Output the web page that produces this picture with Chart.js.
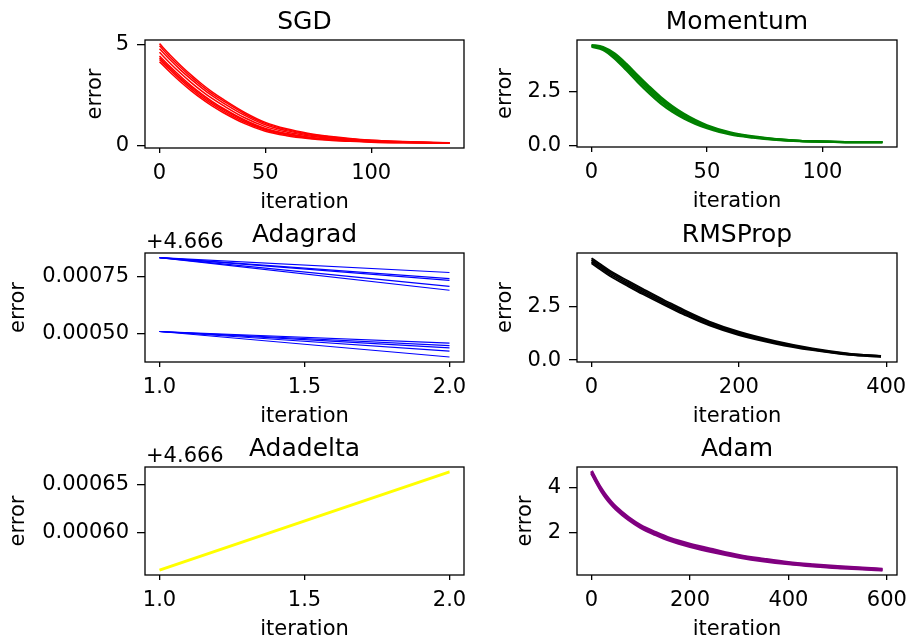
<!DOCTYPE html>
<html><head><meta charset="utf-8">
<script src="https://cdn.jsdelivr.net/npm/chart.js@4.4.1/dist/chart.umd.min.js"></script>
<style>
html,body{margin:0;padding:0;background:#fff;width:912px;height:641px;overflow:hidden;}
#fig{position:relative;width:912px;height:641px;overflow:hidden;}
canvas{position:absolute;}
</style></head><body><div id="fig"></div>
<script>
// ---------------- data ----------------
const sgdIter = [0,5,10,15,20,25,30,40,50,60,70,80,90,100,115,137];
const sgdRun1 = [5.07,4.51,3.99,3.51,3.07,2.67,2.32,1.68,1.17,0.85,0.63,0.48,0.37,0.29,0.22,0.16];
const sgdRun2 = [4.96,4.40,3.89,3.41,2.98,2.58,2.24,1.61,1.12,0.81,0.60,0.46,0.35,0.28,0.21,0.16];
const sgdRun3 = [4.82,4.27,3.76,3.30,2.87,2.48,2.14,1.53,1.05,0.76,0.56,0.43,0.33,0.26,0.20,0.15];
const sgdRun4 = [4.64,4.10,3.60,3.14,2.72,2.34,2.01,1.41,0.96,0.69,0.51,0.39,0.30,0.24,0.19,0.15];
const sgdRun5 = [4.46,3.93,3.44,2.98,2.57,2.20,1.87,1.30,0.87,0.62,0.45,0.35,0.28,0.22,0.18,0.15];
const sgdRun6 = [4.37,3.84,3.35,2.91,2.50,2.13,1.81,1.25,0.83,0.59,0.43,0.33,0.26,0.21,0.17,0.14];
const sgdRun7 = [4.28,3.76,3.27,2.83,2.42,2.06,1.74,1.19,0.79,0.55,0.40,0.31,0.25,0.20,0.17,0.14];
const sgdRun8 = [4.17,3.65,3.17,2.73,2.33,1.97,1.66,1.12,0.73,0.51,0.37,0.28,0.23,0.19,0.16,0.14];

const momIter = [0,5,10,15,20,25,30,35,40,45,50,60,70,80,90,100,110,126];
const momRun1 = [4.66,4.57,4.27,3.80,3.26,2.74,2.25,1.83,1.48,1.19,0.95,0.62,0.43,0.31,0.23,0.20,0.17,0.17];
const momRun2 = [4.64,4.53,4.20,3.71,3.16,2.64,2.16,1.75,1.41,1.14,0.91,0.59,0.41,0.30,0.22,0.19,0.17,0.17];
const momRun3 = [4.61,4.48,4.11,3.61,3.05,2.53,2.06,1.66,1.34,1.07,0.86,0.56,0.39,0.28,0.22,0.19,0.17,0.16];
const momRun4 = [4.58,4.43,4.03,3.50,2.94,2.42,1.95,1.57,1.26,1.01,0.81,0.52,0.37,0.27,0.21,0.18,0.17,0.16];

const adagradIter = [1, 2];
const adagradRun1 = [4.666833, 4.666768];
const adagradRun2 = [4.666833, 4.666741];
const adagradRun3 = [4.666833, 4.666733];
const adagradRun4 = [4.666833, 4.666707];
const adagradRun5 = [4.666833, 4.666690];
const adagradRun6 = [4.666509, 4.666458];
const adagradRun7 = [4.666509, 4.666447];
const adagradRun8 = [4.666509, 4.666437];
const adagradRun9 = [4.666509, 4.666423];
const adagradRun10 = [4.666509, 4.666397];

const rmsIter = [0,10,25,50,70,100,115,130,160,200,250,300,350,393];
const rmsRun1 = [4.74,4.50,4.15,3.67,3.30,2.76,2.51,2.25,1.79,1.32,0.88,0.54,0.30,0.19];
const rmsRun2 = [4.66,4.42,4.07,3.59,3.22,2.69,2.44,2.19,1.73,1.27,0.84,0.51,0.28,0.18];
const rmsRun3 = [4.58,4.34,3.99,3.51,3.14,2.61,2.36,2.12,1.67,1.21,0.80,0.49,0.26,0.16];
const rmsRun4 = [4.50,4.26,3.91,3.43,3.06,2.54,2.29,2.05,1.61,1.16,0.76,0.46,0.24,0.15];

const adadeltaIter = [1, 2];
const adadeltaRun1 = [4.666561, 4.666663];

const adamIter = [0,10,20,30,40,50,75,100,130,160,200,250,300,350,400,450,500,550,591];
const adamRun1 = [4.75,4.33,3.95,3.63,3.36,3.13,2.67,2.31,2.00,1.73,1.47,1.21,0.97,0.80,0.65,0.55,0.47,0.40,0.35];
const adamRun2 = [4.70,4.28,3.90,3.58,3.31,3.08,2.62,2.26,1.95,1.68,1.42,1.16,0.93,0.76,0.62,0.52,0.44,0.38,0.33];
const adamRun3 = [4.65,4.23,3.85,3.53,3.26,3.03,2.57,2.21,1.90,1.63,1.37,1.11,0.89,0.72,0.59,0.49,0.41,0.36,0.31];

// tick values and labels
const sgdXTicks = [0,50,100];          const sgdXLabels = ['0','50','100'];
const sgdYTicks = [0,5];               const sgdYLabels = ['0','5'];
const momXTicks = [0,50,100];          const momXLabels = ['0','50','100'];
const momYTicks = [0,2.5];             const momYLabels = ['0.0','2.5'];
const adagradXTicks = [1,1.5,2];       const adagradXLabels = ['1.0','1.5','2.0'];
const adagradYTicks = [4.6665,4.66675];const adagradYLabels = ['0.00050','0.00075'];
const rmsXTicks = [0,200,400];         const rmsXLabels = ['0','200','400'];
const rmsYTicks = [0,2.5];             const rmsYLabels = ['0.0','2.5'];
const adadeltaXTicks = [1,1.5,2];      const adadeltaXLabels = ['1.0','1.5','2.0'];
const adadeltaYTicks = [4.6666,4.66665];const adadeltaYLabels = ['0.00060','0.00065'];
const adamXTicks = [0,200,400,600];    const adamXLabels = ['0','200','400','600'];
const adamYTicks = [2,4];              const adamYLabels = ['2','4'];

const titles = ['SGD','Momentum','Adagrad','RMSProp','Adadelta','Adam'];
const offsetLabel = '+4.666';

// ---------------- layout / style ----------------
const F = 'DejaVu Sans';
Chart.defaults.font.family = F;

const panels = [
  {title:titles[0], iter:sgdIter, runs:[sgdRun1,sgdRun2,sgdRun3,sgdRun4,sgdRun5,sgdRun6,sgdRun7,sgdRun8], color:'#ff0000', lw:1.5,
   xr:[-6.85,143.85], yr:[-0.1,5.25], xt:sgdXTicks, xl:sgdXLabels, yt:sgdYTicks, yl:sgdYLabels,
   pos:{left:83, top:0, w:411, h:218}, yW:62, offset:null},
  {title:titles[1], iter:momIter, runs:[momRun1,momRun2,momRun3,momRun4], color:'#008000', lw:2.2,
   xr:[-6.3,132.3], yr:[-0.06,4.89], xt:momXTicks, xl:momXLabels, yt:momYTicks, yl:momYLabels,
   pos:{left:493, top:0, w:434, h:217}, yW:84, offset:null},
  {title:titles[2], iter:adagradIter, runs:[adagradRun1,adagradRun2,adagradRun3,adagradRun4,adagradRun5,adagradRun6,adagradRun7,adagradRun8,adagradRun9,adagradRun10], color:'#0000ff', lw:1.2,
   xr:[0.95,2.05], yr:[4.666375,4.6668535], xt:adagradXTicks, xl:adagradXLabels, yt:adagradYTicks, yl:adagradYLabels,
   pos:{left:6, top:213, w:488, h:219}, yW:139, offset:offsetLabel},
  {title:titles[3], iter:rmsIter, runs:[rmsRun1,rmsRun2,rmsRun3,rmsRun4], color:'#000000', lw:1.9,
   xr:[-19.7,414.7], yr:[-0.09,4.98], xt:rmsXTicks, xl:rmsXLabels, yt:rmsYTicks, yl:rmsYLabels,
   pos:{left:493, top:213, w:434, h:219}, yW:84, offset:null},
  {title:titles[4], iter:adadeltaIter, runs:[adadeltaRun1], color:'#ffff00', lw:3,
   xr:[0.95,2.05], yr:[4.666556,4.666668], xt:adadeltaXTicks, xl:adadeltaXLabels, yt:adadeltaYTicks, yl:adadeltaYLabels,
   pos:{left:6, top:427, w:488, h:218}, yW:139, offset:offsetLabel},
  {title:titles[5], iter:adamIter, runs:[adamRun1,adamRun2,adamRun3], color:'#800080', lw:3,
   xr:[-29.55,620.55], yr:[0.09,4.93], xt:adamXTicks, xl:adamXLabels, yt:adamYTicks, yl:adamYLabels,
   pos:{left:513, top:427, w:414, h:218}, yW:64, offset:null}
];

const framePlugin = {
  id: 'frame',
  afterDraw(chart, args, opts) {
    const ctx = chart.ctx, a = chart.chartArea;
    ctx.save();
    ctx.strokeStyle = '#000';
    ctx.lineWidth = 1.3;
    ctx.strokeRect(a.left, a.top, a.right - a.left, a.bottom - a.top);
    if (opts && opts.offsetText) {
      ctx.font = '21px "DejaVu Sans"';
      ctx.fillStyle = '#000';
      ctx.textAlign = 'left';
      ctx.textBaseline = 'alphabetic';
      ctx.fillText(opts.offsetText, a.left + 1, a.top - 5);
    }
    ctx.restore();
  }
};

const fig = document.getElementById('fig');
panels.forEach((p) => {
  const c = document.createElement('canvas');
  c.width = p.pos.w; c.height = p.pos.h;
  c.style.left = p.pos.left + 'px'; c.style.top = p.pos.top + 'px';
  c.style.width = p.pos.w + 'px'; c.style.height = p.pos.h + 'px';
  fig.appendChild(c);
  const tickFont = {family:F, size:21};
  new Chart(c, {
    type: 'line',
    data: {
      datasets: p.runs.map((r, i) => ({
        label: p.title + ' run ' + (i + 1),
        data: p.iter.map((x, j) => ({x: x, y: r[j]})),
        borderColor: p.color,
        backgroundColor: p.color,
        borderWidth: p.lw,
        pointRadius: 0,
        fill: false,
        cubicInterpolationMode: 'monotone'
      }))
    },
    options: {
      responsive: false,
      animation: false,
      devicePixelRatio: 1,
      layout: {padding: {left: 0, top: 0, right: 30, bottom: 0}},
      plugins: {
        legend: {display: false},
        tooltip: {enabled: false},
        title: {display: true, text: p.title, fullSize: false, color: '#000',
                font: {family: F, size: 25, weight: 'normal', lineHeight: 1.2},
                padding: {top: 7, bottom: 3}},
        frame: {offsetText: p.offset}
      },
      scales: {
        x: {
          type: 'linear', min: p.xr[0], max: p.xr[1],
          afterBuildTicks: s => { s.ticks = p.xt.map(v => ({value: v})); },
          ticks: {callback: (v, i) => p.xl[i], font: tickFont, color: '#000', padding: 8, maxRotation: 0, autoSkip: false},
          grid: {drawOnChartArea: false, drawTicks: true, tickLength: 5, color: '#000', lineWidth: 1.3},
          border: {display: false},
          title: {display: true, text: 'iteration', font: tickFont, color: '#000', padding: {top: 0, bottom: 3}},
          afterFit: s => { s.height = 70; }
        },
        y: {
          type: 'linear', min: p.yr[0], max: p.yr[1],
          afterBuildTicks: s => { s.ticks = p.yt.map(v => ({value: v})); },
          ticks: {callback: (v, i) => p.yl[i], font: tickFont, color: '#000', padding: 8, autoSkip: false},
          grid: {drawOnChartArea: false, drawTicks: true, tickLength: 8, color: '#000', lineWidth: 1.3},
          border: {display: false},
          title: {display: true, text: 'error', font: tickFont, color: '#000', padding: {top: 0, bottom: 0}},
          afterFit: s => { s.width = p.yW; }
        }
      }
    },
    plugins: [framePlugin]
  });
});
</script></body></html>
